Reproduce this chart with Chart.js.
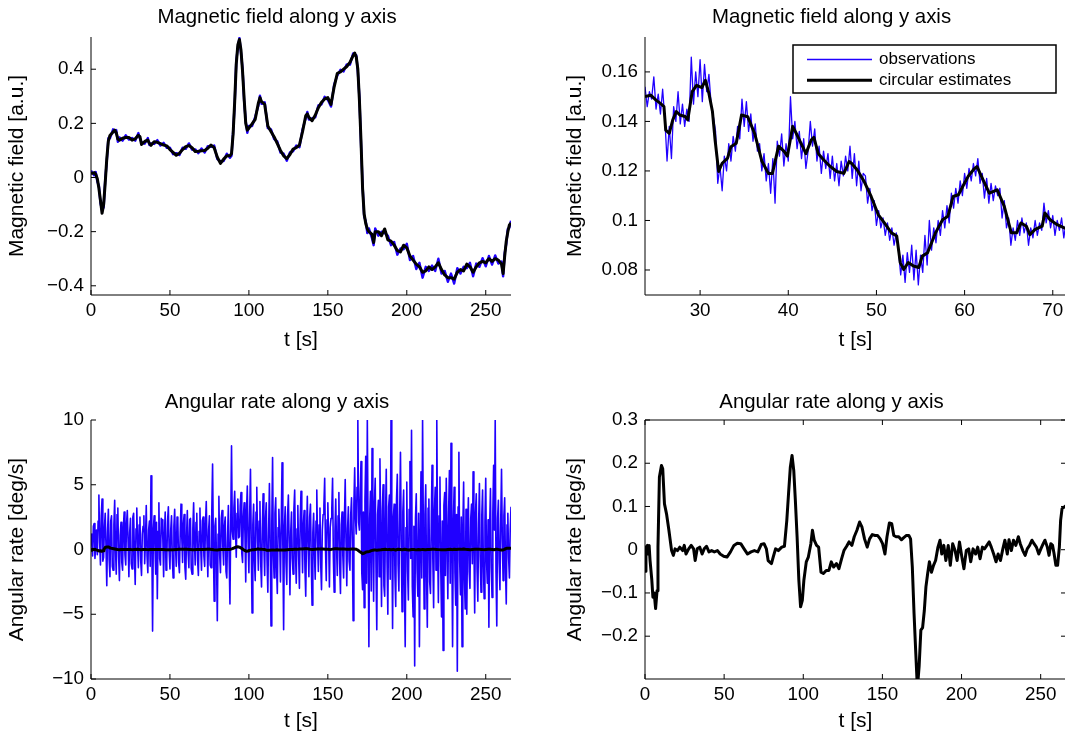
<!DOCTYPE html>
<html>
<head>
<meta charset="utf-8">
<script src="https://cdn.jsdelivr.net/npm/chart.js@4.4.1/dist/chart.umd.min.js"></script>
<style>
  html, body { margin: 0; padding: 0; background: #fff; }
  #fig { position: relative; width: 1065px; height: 734px; overflow: hidden; }
  #fig canvas { position: absolute; }
</style>
</head>
<body>
<div id="fig">
  <canvas id="magFull" width="532" height="362" style="left:0;top:0"></canvas>
  <canvas id="magZoom" width="540" height="362" style="left:532px;top:0"></canvas>
  <canvas id="rateObsChart" width="532" height="367" style="left:0;top:367px"></canvas>
  <canvas id="rateEstChart" width="540" height="367" style="left:532px;top:367px"></canvas>
</div>
<script>
// ---- data ----
// magnetic field, whole run (top left)
const magTime = [
  0, 2, 3, 4, 5, 6, 7, 8, 9, 10,
  11, 12, 14, 15, 16, 17, 18, 20, 22, 24,
  26, 28, 30, 31, 32, 34, 36, 37, 38, 40,
  42, 44, 46, 48, 50, 52, 54, 56, 58, 60,
  62, 64, 66, 68, 70, 72, 74, 76, 78, 80,
  82, 84, 86, 88, 89, 90, 91, 92, 93, 94,
  95, 96, 97, 98, 99, 100, 102, 104, 106, 107,
  108, 110, 112, 114, 116, 118, 120, 122, 124, 126,
  128, 130, 132, 134, 136, 137, 138, 140, 142, 144,
  146, 148, 150, 152, 154, 156, 158, 160, 162, 164,
  166, 167, 168, 169, 170, 171, 172, 173, 174, 175,
  176, 178, 179, 180, 182, 184, 186, 188, 190, 192,
  194, 196, 198, 200, 202, 204, 206, 208, 210, 212,
  214, 216, 218, 220, 222, 224, 226, 228, 230, 232,
  234, 236, 238, 240, 242, 244, 246, 248, 250, 252,
  254, 256, 258, 260, 261, 262, 263, 264, 265, 266
];
const magEst = [
  0.015, 0.018, 0.012, -0.005, -0.04, -0.085, -0.132, -0.1, -0.02, 0.07,
  0.135, 0.155, 0.168, 0.175, 0.165, 0.142, 0.138, 0.145, 0.148, 0.148,
  0.138, 0.143, 0.156, 0.151, 0.122, 0.133, 0.138, 0.126, 0.119, 0.132,
  0.13, 0.125, 0.12, 0.117, 0.103, 0.093, 0.082, 0.09, 0.103, 0.114,
  0.118, 0.11, 0.096, 0.097, 0.099, 0.1, 0.108, 0.12, 0.11, 0.075,
  0.052, 0.068, 0.08, 0.08, 0.088, 0.16, 0.28, 0.42, 0.49, 0.51,
  0.47, 0.39, 0.29, 0.2, 0.175, 0.182, 0.198, 0.215, 0.275, 0.295,
  0.28, 0.27, 0.19, 0.17, 0.15, 0.125, 0.1, 0.08, 0.07, 0.085,
  0.105, 0.11, 0.12, 0.17, 0.228, 0.235, 0.222, 0.21, 0.23, 0.258,
  0.278, 0.29, 0.295, 0.27, 0.335, 0.385, 0.39, 0.4, 0.41, 0.425,
  0.45, 0.46, 0.445, 0.4, 0.285, 0.135, -0.04, -0.135, -0.17, -0.19,
  -0.2, -0.21, -0.24, -0.2, -0.2, -0.215, -0.19, -0.23, -0.235, -0.25,
  -0.27, -0.275, -0.25, -0.26, -0.29, -0.305, -0.32, -0.33, -0.35, -0.345,
  -0.33, -0.34, -0.33, -0.315, -0.34, -0.36, -0.37, -0.37, -0.375, -0.35,
  -0.34, -0.345, -0.32, -0.33, -0.35, -0.33, -0.315, -0.31, -0.315, -0.3,
  -0.31, -0.3, -0.305, -0.32, -0.355, -0.29, -0.235, -0.2, -0.175, -0.168
];
const magObs = [
  0.025, 0.008, 0.02, -0.015, -0.03, -0.095, -0.12, -0.11, -0.01, 0.06,
  0.145, 0.145, 0.178, 0.168, 0.175, 0.132, 0.148, 0.136, 0.156, 0.14,
  0.146, 0.136, 0.164, 0.143, 0.13, 0.125, 0.146, 0.12, 0.126, 0.124,
  0.138, 0.118, 0.128, 0.11, 0.11, 0.086, 0.09, 0.083, 0.11, 0.106,
  0.126, 0.103, 0.104, 0.09, 0.107, 0.092, 0.116, 0.113, 0.118, 0.068,
  0.06, 0.061, 0.088, 0.073, 0.08, 0.168, 0.27, 0.43, 0.48, 0.515,
  0.46, 0.4, 0.28, 0.208, 0.165, 0.19, 0.19, 0.224, 0.265, 0.302,
  0.272, 0.278, 0.182, 0.178, 0.142, 0.133, 0.092, 0.088, 0.062, 0.093,
  0.097, 0.118, 0.112, 0.178, 0.22, 0.242, 0.214, 0.218, 0.222, 0.266,
  0.27, 0.298, 0.287, 0.262, 0.343, 0.377, 0.398, 0.392, 0.418, 0.417,
  0.458, 0.452, 0.452, 0.39, 0.295, 0.125, -0.03, -0.145, -0.16, -0.205,
  -0.188, -0.225, -0.25, -0.188, -0.215, -0.2, -0.205, -0.215, -0.25, -0.238,
  -0.285, -0.262, -0.265, -0.245, -0.305, -0.29, -0.338, -0.315, -0.37, -0.33,
  -0.345, -0.325, -0.345, -0.3, -0.355, -0.345, -0.385, -0.355, -0.392, -0.335,
  -0.355, -0.33, -0.335, -0.315, -0.365, -0.318, -0.33, -0.298, -0.328, -0.29,
  -0.322, -0.288, -0.318, -0.31, -0.365, -0.28, -0.245, -0.19, -0.185, -0.16
];

// magnetic field, close-up 24-72 s (top right)
const zoomEstTime = [
  23.75, 24.4, 25, 25.5, 25.9, 26.1, 26.5, 26.9, 27.3, 27.7,
  28.3, 28.6, 29.1, 29.6, 30.2, 30.6, 31, 31.4, 31.7, 32.1,
  32.5, 33.1, 33.5, 34.1, 34.7, 35.4, 36.2, 37, 37.75, 38.2,
  38.9, 39.5, 39.9, 40.5, 41, 41.6, 42, 42.6, 42.9, 43.4,
  44, 44.7, 45.5, 46.3, 46.9, 47.2, 47.8, 48.6, 49.4, 50.2,
  50.9, 51.7, 52.3, 52.7, 53.1, 53.6, 54.2, 54.8, 55.2, 55.8,
  56.4, 56.7, 57.5, 58.1, 58.7, 59.3, 59.8, 60.4, 61, 61.4,
  62, 62.8, 63.7, 64.5, 65.3, 65.9, 66.4, 67, 67.4, 68,
  68.8, 69.1, 69.7, 70.5, 71.3, 72
];
const zoomEst = [
  0.150, 0.1506, 0.1486, 0.1473, 0.146, 0.1365, 0.1352, 0.1406, 0.144, 0.1426,
  0.142, 0.1406, 0.152, 0.1546, 0.1537, 0.1566, 0.1513, 0.144, 0.1325, 0.1198,
  0.1231, 0.1251, 0.1298, 0.1312, 0.1426, 0.1419, 0.135, 0.124, 0.119, 0.119,
  0.13, 0.128, 0.126, 0.138, 0.1345, 0.13, 0.127, 0.1325, 0.1336, 0.127,
  0.1245, 0.122, 0.1198, 0.119, 0.1238, 0.123, 0.1205, 0.1158, 0.1097, 0.1024,
  0.099, 0.095, 0.0937, 0.083, 0.0802, 0.083, 0.0816, 0.081, 0.0856, 0.087,
  0.0923, 0.095, 0.1003, 0.1017, 0.1097, 0.1104, 0.1138, 0.1178, 0.1205, 0.1218,
  0.1171, 0.111, 0.1124, 0.1057, 0.095, 0.095, 0.099, 0.0977, 0.0943, 0.0964,
  0.0977, 0.103, 0.1003, 0.0983, 0.097, 0.096
];
const zoomObsStart = 23.75;
const zoomObsStep = 0.25;
const zoomObs = [
  0.154, 0.146, 0.152, 0.149,  0.158, 0.145, 0.151, 0.143,
  0.153, 0.141, 0.124, 0.138,  0.125, 0.146, 0.14, 0.152,
  0.139, 0.147, 0.138, 0.145,  0.14, 0.166, 0.147, 0.16,
  0.15, 0.165, 0.148, 0.163,   0.152, 0.159, 0.147, 0.142,
  0.136, 0.115, 0.122, 0.112,  0.126, 0.12, 0.131, 0.124,
  0.134, 0.128, 0.138, 0.133,  0.149, 0.138, 0.148, 0.136,
  0.143, 0.132, 0.139, 0.128,  0.131, 0.12, 0.127, 0.116,
  0.123, 0.111, 0.125, 0.107,  0.132, 0.126, 0.135, 0.122,
  0.131, 0.124, 0.15, 0.133,   0.14, 0.129, 0.136, 0.125,
  0.133, 0.121, 0.128, 0.14,   0.13, 0.137, 0.124, 0.13,
  0.119, 0.128, 0.121, 0.127,  0.117, 0.126, 0.116, 0.123,
  0.114, 0.124, 0.118, 0.126,  0.12, 0.13, 0.117, 0.127,
  0.114, 0.124, 0.112, 0.119,  0.118, 0.107, 0.113, 0.104,
  0.108, 0.098, 0.104, 0.097,  0.101, 0.094, 0.099, 0.092,
  0.097, 0.09, 0.095, 0.088,   0.078, 0.086, 0.075, 0.087,
  0.079, 0.09, 0.076, 0.088,   0.074, 0.086, 0.079, 0.094,
  0.082, 0.1, 0.088, 0.097,    0.091, 0.1, 0.094, 0.104,
  0.097, 0.106, 0.099, 0.111,  0.105, 0.113, 0.107, 0.116,
  0.11, 0.119, 0.113, 0.121,   0.116, 0.123, 0.118, 0.125,
  0.115, 0.119, 0.109, 0.117,  0.107, 0.115, 0.108, 0.114,
  0.11, 0.113, 0.101, 0.108,   0.097, 0.101, 0.09, 0.097,
  0.092, 0.1, 0.094, 0.101,    0.095, 0.099, 0.09, 0.097,
  0.093, 0.1, 0.094, 0.099,    0.096, 0.107, 0.099, 0.104,
  0.097, 0.102, 0.094, 0.1,    0.096, 0.101, 0.093, 0.099,
  0.095, 0.098
];

// angular rate estimate (bottom right, also the black line bottom left)
const rateTime = [
  0, 0.6, 1.5, 2.2, 2.6, 3.2, 4.3, 5, 5.8, 6.7,
  7.6, 8.2, 9.1, 10.4, 11.2, 12.3, 13.6, 15.1, 16.8, 17.9,
  19, 20.5, 22, 23.8, 24.8, 25.9, 27.6, 29.2, 30.7, 31.7,
  33, 34.6, 36.1, 37.4, 38.9, 40.4, 42.1, 43.8, 45.8, 47.5,
  49.7, 51.8, 54, 56.2, 58.3, 60.5, 62.6, 64.8, 67, 69.1,
  71.3, 73.4, 75.2, 76.7, 77.8, 79.9, 81, 82.5, 84.2, 86.4,
  88.1, 89.6, 90.7, 91.8, 92.9, 94, 95, 96.1, 97.2, 98.3,
  99.4, 100.4, 101.9, 103.2, 104.8, 105.8, 106.9, 108.4, 109.7, 111.2,
  112.7, 114.5, 116.2, 117.7, 119.2, 121, 122.5, 124.2, 125.7, 127.4,
  128.9, 130.7, 132.2, 133.9, 135.6, 137.1, 138.7, 140.4, 141.9, 143.6,
  145.4, 146.9, 148.6, 150.1, 151.6, 152.9, 154.4, 155.9, 157.2, 158.7,
  160.3, 162, 163.5, 165.2, 166.7, 167.8, 168.9, 170, 171.1, 172.1,
  173.2, 174.3, 175.4, 176.5, 177.5, 178.6, 179.7, 181, 182.3, 183.6,
  185.1, 186.4, 187.5, 188.8, 190.1, 191.6, 192.9, 194.4, 195.9, 197.2,
  198.7, 200.2, 201.5, 203, 204.5, 205.8, 207.3, 208.9, 210.2, 211.7,
  213.2, 214.5, 216, 217.5, 218.8, 220.3, 221.8, 223.1, 224.6, 226.1,
  227.4, 228.9, 230, 231.5, 232.8, 234.3, 235.9, 237.1, 238.7, 240.2,
  241.5, 243, 244.5, 245.8, 247.3, 248.8, 250.1, 251.6, 252.7, 254.2,
  255.3, 256.4, 257.5, 258.5, 259.6, 260.7, 261.8, 262.6, 263.5, 264.6,
  266
];
const rateEst = [
  -0.05, 0.006, 0.01, -0.01, 0.01, -0.025, -0.07, -0.11, -0.1, -0.136,
  -0.095, 0.006, 0.168, 0.195, 0.187, 0.106, 0.083, 0.045, -0.002, -0.013,
  0.002, -0.002, 0.006, -0.002, 0.01, -0.01, 0.002, 0.01, 0.002, -0.025,
  0.002, 0.006, -0.01, 0.002, 0.008, -0.005, -0.002, -0.005, -0.002, -0.01,
  -0.015, -0.017, -0.005, 0.01, 0.015, 0.014, 0.002, -0.01, -0.005, -0.002,
  -0.005, 0.012, 0.014, 0.002, -0.025, -0.032, -0.017, 0.002, -0.002, 0.006,
  0.008, 0.068, 0.13, 0.19, 0.218, 0.183, 0.114, 0.03, -0.07, -0.132,
  -0.117, -0.07, -0.028, -0.017, 0.014, 0.045, 0.022, 0.01, 0.006, -0.052,
  -0.055, -0.048, -0.048, -0.028, -0.04, -0.032, -0.044, -0.021, -0.002, 0.008,
  0.018, 0.01, 0.03, 0.045, 0.064, 0.052, 0.025, 0.006, 0.025, 0.035,
  0.033, 0.033, 0.025, 0.014, -0.01, 0.03, 0.062, 0.06, 0.033, 0.03,
  0.03, 0.023, 0.028, 0.033, 0.033, 0.025, -0.04, -0.148, -0.24, -0.32,
  -0.27, -0.186, -0.18, -0.14, -0.086, -0.055, -0.028, -0.052, -0.036, -0.025,
  0.006, 0.022, -0.01, 0.01, -0.025, 0.01, -0.036, 0.014, -0.002, -0.025,
  0.018, -0.017, -0.044, -0.002, 0.002, -0.028, 0.002, -0.01, 0.006, -0.021,
  0.006, 0.002, 0.01, 0.018, 0.006, -0.01, -0.028, -0.01, -0.025, 0.002,
  0.022, -0.01, 0.023, -0.002, 0.022, 0.01, 0.03, 0.014, -0.002, -0.013,
  0.002, 0.01, 0.022, 0.014, 0.006, -0.01, 0.002, 0.014, 0.022, 0.006,
  -0.013, 0.014, 0.01, -0.01, -0.036, -0.036, 0.006, 0.068, 0.095, 0.098,
  0.102
];

// angular rate observations, two samples per second (bottom left)
const rateObsStep = 0.5;
const rateObs = [
  1.2, 0.4, -0.5, 1.8, 2.0, -0.7, 0.3, 1.5, -0.4, 2.2, 4.2, 0.5, -1.2, 2.6, 3.9, -0.9, -0.6, 1.7, 2.8, 0.2,
  -2.8, 1.4, 3.1, -0.8, -2.1, 2.2, 2.6, -1.3, -1.6, 1.9, 3.8, 0.1, -1.9, 2.7, 3.2, -0.6, -2.4, 1.1, 2.1, -1.0,
  -1.6, 1.7, 2.9, -0.4, -1.2, 2.0, 3.0, 0.6, -2.1, 1.3, 2.4, -1.1, -1.5, 2.5, 2.8, -0.3, -2.7, 1.6, 3.2, 0.4,
  -1.4, 1.9, 2.5, -0.9, -2.0, 1.2, 1.8, 2.6, -1.1, 0.7, 3.4, -0.5, -1.8, 1.5, 2.2, -1.3, 5.7, 0.9, -6.3, 1.6,
  2.6, 0.2, -1.9, 2.1, -3.8, 1.4, 3.6, -0.7, -1.2, 2.4, 2.3, 0.8, -2.1, 1.2, 2.9, -1.6, -0.9, 2.2, 3.3, -0.2,
  -1.5, 1.5, 2.6, -0.6, -2.2, 1.8, 3.1, 0.3, -1.3, 2.5, 2.2, -1.0, -1.8, 1.3, 3.5, 0.9, -1.0, 2.0, 2.7, -1.4,
  -2.3, 1.0, 3.0, -0.2, -1.4, 2.3, 2.4, -1.5, -1.9, 1.6, 3.6, 0.5, -1.2, 2.1, 2.8, -0.8, -2.0, 1.4, 3.2, 0.1,
  -1.6, 2.2, 2.5, -0.5, -1.3, 1.9, 3.7, 0.4, -2.1, 1.5, 2.6, -1.2, -1.4, 2.9, 6.6, 0.3, -4.0, 1.8, 2.4, -0.9,
  -5.5, 1.2, 4.1, -0.4, -1.8, 2.4, 3.0, 0.2, -1.2, 1.8, 2.5, -1.7, -2.2, 1.1, 3.4, -0.6, -4.2, 2.0, 8.0, 1.4,
  0.8, 3.2, 4.5, 1.6, -0.6, 2.8, 3.9, 0.9, 1.0, 3.4, 4.4, -0.3, -1.0, 2.5, 3.6, 1.2, -2.5, 3.0, 4.9, 0.6,
  -1.8, 2.7, 6.2, 0.4, -4.9, 1.9, 3.5, -0.8, -2.4, 2.9, 4.8, 0.7, -1.6, 2.2, 3.7, -1.1, -2.9, 1.6, 4.3, 0.2,
  -2.0, 2.4, 3.6, -0.9, -3.3, 1.5, 5.1, 0.6, -5.9, 2.0, 7.1, -0.4, -2.2, 2.8, 4.0, -1.3, -3.4, 1.7, 3.1, 0.8,
  -2.5, 2.1, 6.7, 0.3, -6.2, 1.8, 3.3, -1.0, -2.7, 2.6, 4.2, 0.5, -3.5, 1.4, 2.9, -0.7, -1.9, 3.1, 4.6, -0.2,
  -2.6, 1.6, 3.4, -0.5, -3.0, 2.3, 4.5, 0.9, -1.8, 2.0, 3.0, -1.4, -3.6, 1.1, 4.1, 0.4, -2.1, 2.5, 3.5, -0.8,
  -4.3, 1.3, 2.8, -0.3, -2.3, 2.2, 4.6, 0.7, -1.7, 1.9, 3.2, -1.2, -3.1, 1.5, 2.7, 3.4, 5.5, 0.1, -2.4, 2.3,
  3.6, 0.8, -2.9, 1.7, 2.4, 3.1, 5.5, -0.6, -3.3, 1.4, 3.9, 0.2, -2.0, 2.6, 4.4, -1.1, -3.4, 1.9, 2.9, -0.5,
  -2.2, 2.3, 5.4, 0.6, -2.8, 1.6, 3.3, -0.9, -1.6, 2.7, 4.0, 0.8, -5.5, 3.5, 6.3, 2.4, 1.2, 4.8, 10.0, 2.1,
  1.5, 4.4, 6.8, -1.8, -3.1, 2.9, -4.5, 3.8, 7.2, -2.6, 10.0, 1.3, -7.5, 2.4, 4.5, -3.2, 7.8, 0.9, -4.0, 3.6,
  5.5, -1.4, -6.2, 2.7, 3.8, -2.1, 7.0, 1.1, -4.4, 3.0, 5.0, -2.8, -3.6, 2.2, 6.2, -1.0, -5.0, 3.3, 4.2, -2.3,
  10.0, 1.8, -6.1, 2.5, 3.5, -2.0, -4.4, 3.9, 5.8, -1.2, -3.2, 2.6, 7.5, 0.4, -4.8, 2.9, 4.6, -2.4, -7.5, 1.7,
  5.2, -1.6, -3.9, 3.1, 6.8, -0.7, 9.2, -2.9, -5.2, 1.8, -9.0, 2.4, 4.3, -1.5, -3.6, 2.8, -7.5, 0.6, 6.0, -2.2,
  10.0, 1.4, -4.6, 2.7, 5.0, -1.9, -6.0, 3.2, 3.9, -2.5, -3.4, 2.1, 6.5, -0.8, -4.5, 3.0, 4.8, -1.6, 10.0, 0.9,
  -4.1, 2.6, 5.6, -1.3, -5.2, 2.2, -7.8, 3.4, 4.4, -2.0, 5.5, 1.0, -3.8, 2.9, 6.1, -2.6, 8.2, 0.5, -7.5, 2.3,
  4.8, -1.8, -4.3, 2.7, -9.4, 3.3, 7.5, -0.9, -3.5, 2.5, -7.5, 1.6, 5.2, -2.2, -4.6, 3.1, -5.0, 1.2, 4.0, -1.7,
  -3.0, 2.4, 3.5, -1.1, 6.0, 0.7, -4.9, 2.8, 4.3, -1.5, -4.0, 2.0, 5.1, -0.6, -3.3, 2.6, 4.6, -1.2, -3.8, 2.1,
  5.5, -0.9, -2.6, 2.3, -6.0, 1.9, 4.7, -1.4, -3.7, 2.8, 6.5, 1.5, 10.0, -1.7, -5.9, 2.4, 3.8, -1.0, -3.1, 2.2,
  6.2, 0.8, -2.4, 2.6, 4.0, -1.3, -4.2, 1.9, 2.8, -0.7, -2.2, 1.5, 3.3
];

// axis ticks
const tTicksFull = [0, 50, 100, 150, 200, 250];
const tTicksZoom = [30, 40, 50, 60, 70];
const magTicksFull = [-0.4, -0.2, 0, 0.2, 0.4];
const magTicksZoom = [0.08, 0.1, 0.12, 0.14, 0.16];
const rateTicksObs = [-10, -5, 0, 5, 10];
const rateTicksEst = [-0.2, -0.1, 0, 0.1, 0.2, 0.3];

// ---- drawing ----
const BLUE = '#2000ff';
const FONT = '"Liberation Sans", Arial, Helvetica, sans-serif';
const TICK_SIZE = 18.8;
const LABEL_SIZE = 21;
const LABEL_LH = LABEL_SIZE * 1.2;
const TITLE_SIZE = 20.4;

Chart.defaults.font.family = FONT;
Chart.defaults.color = '#000';

const pairs = (xs, ys) => ys.map((y, i) => ({ x: xs[i], y }));
const stepped = (start, step, ys) => ys.map((y, i) => ({ x: start + i * step, y }));
const fmt = v => (v < 0 ? '\u2212' + Math.abs(v) : String(v));

// panel title, placed over the axes like the original figure
const panelTitle = {
  id: 'panelTitle',
  afterDraw(chart, args, opts) {
    const { ctx, chartArea: a } = chart;
    ctx.save();
    ctx.font = TITLE_SIZE + 'px ' + FONT;
    ctx.fillStyle = '#000';
    ctx.textAlign = 'center';
    ctx.textBaseline = 'middle';
    ctx.fillText(opts.text, (a.left + a.right) / 2 + opts.dx, opts.y);
    ctx.restore();
  }
};

// MATLAB style axes: lines plus inward tick marks
const matlabAxes = {
  id: 'matlabAxes',
  afterDatasetsDraw(chart, args, opts) {
    const { ctx, chartArea: a, scales: { x, y } } = chart;
    const len = 5;
    ctx.save();
    ctx.strokeStyle = '#000';
    ctx.lineWidth = 1;
    ctx.beginPath();
    x.ticks.forEach(t => {
      const px = x.getPixelForValue(t.value);
      ctx.moveTo(px, a.bottom); ctx.lineTo(px, a.bottom - len);
      if (opts.box) { ctx.moveTo(px, a.top); ctx.lineTo(px, a.top + len); }
    });
    y.ticks.forEach(t => {
      const py = y.getPixelForValue(t.value);
      ctx.moveTo(a.left, py); ctx.lineTo(a.left + len, py);
      if (opts.box) { ctx.moveTo(a.right, py); ctx.lineTo(a.right - len, py); }
    });
    ctx.moveTo(a.left, a.top); ctx.lineTo(a.left, a.bottom); ctx.lineTo(a.right, a.bottom);
    if (opts.box) { ctx.moveTo(a.left, a.top); ctx.lineTo(a.right, a.top); ctx.lineTo(a.right, a.bottom); }
    ctx.stroke();
    ctx.restore();
  }
};

// boxed legend in the upper right corner of the plot
const boxLegend = {
  id: 'boxLegend',
  afterDraw(chart, args, opts) {
    if (!opts.show) return;
    const { ctx, chartArea: a } = chart;
    const w = 263, h = 48;
    const bx = a.right - 10 - w, by = a.top + 8;
    ctx.save();
    ctx.fillStyle = '#fff';
    ctx.fillRect(bx, by, w, h);
    ctx.strokeStyle = '#000';
    ctx.lineWidth = 1.5;
    ctx.strokeRect(bx, by, w, h);
    ctx.font = '17px ' + FONT;
    ctx.textBaseline = 'middle';
    ctx.textAlign = 'left';
    chart.data.datasets.forEach((ds, i) => {
      const ly = by + 14.5 + i * 20.7;
      ctx.strokeStyle = ds.borderColor;
      ctx.lineWidth = ds.borderWidth;
      ctx.beginPath();
      ctx.moveTo(bx + 14, ly);
      ctx.lineTo(bx + 79, ly);
      ctx.stroke();
      ctx.fillStyle = '#000';
      ctx.fillText(ds.label, bx + 86, ly);
    });
    ctx.restore();
  }
};

function obsSet(data, width) {
  return { label: 'observations', data, borderColor: BLUE, borderWidth: width, pointRadius: 0,
           tension: 0, fill: false, order: 1, clip: 0, borderJoinStyle: 'round' };
}
function estSet(data) {
  return { label: 'circular estimates', data, borderColor: '#000', borderWidth: 3, pointRadius: 0,
           tension: 0, fill: false, order: 0, clip: 0, borderJoinStyle: 'round' };
}

function panel(id, p) {
  const canvas = document.getElementById(id);
  const W = canvas.width, H = canvas.height;
  return new Chart(canvas, {
    type: 'line',
    data: { datasets: p.datasets },
    options: {
      responsive: false,
      animation: false,
      devicePixelRatio: 1,
      events: [],
      layout: { padding: { left: 0, top: p.area.top, bottom: 0, right: W - p.area.right } },
      plugins: {
        legend: { display: false },
        tooltip: { enabled: false },
        title: { display: false },
        panelTitle: { text: p.title, y: p.titleY, dx: -24 },
        matlabAxes: { box: !!p.box },
        boxLegend: { show: !!p.legend }
      },
      scales: {
        x: {
          type: 'linear', min: p.xRange[0], max: p.xRange[1],
          grid: { display: false, drawTicks: false }, border: { display: false },
          ticks: { padding: 5, autoSkip: false, maxRotation: 0, font: { size: TICK_SIZE }, color: '#000', callback: fmt },
          afterBuildTicks: s => { s.ticks = p.xTicks.map(v => ({ value: v })); },
          afterFit: s => { s.height = H - p.area.bottom; },
          title: { display: true, text: 't [s]', color: '#000', font: { size: LABEL_SIZE },
                   padding: { top: 0, bottom: (H - p.xLabelY) - LABEL_LH / 2 } }
        },
        y: {
          type: 'linear', min: p.yRange[0], max: p.yRange[1],
          grid: { display: false, drawTicks: false }, border: { display: false },
          ticks: { padding: 7, autoSkip: false, font: { size: TICK_SIZE }, color: '#000', callback: fmt },
          afterBuildTicks: s => { s.ticks = p.yTicks.map(v => ({ value: v })); },
          afterFit: s => { s.width = p.area.left; },
          title: { display: true, text: p.yLabel, color: '#000', font: { size: LABEL_SIZE },
                   padding: { top: p.yLabelX - LABEL_LH / 2, bottom: 0 } }
        }
      }
    },
    plugins: [matlabAxes, boxLegend, panelTitle]
  });
}

panel('magFull', {
  title: 'Magnetic field along y axis', yLabel: 'Magnetic field [a.u.]',
  area: { left: 91, right: 511, top: 37, bottom: 295 }, titleY: 17, xLabelY: 340, yLabelX: 17,
  xRange: [0, 266], yRange: [-0.434, 0.519], xTicks: tTicksFull, yTicks: magTicksFull,
  datasets: [obsSet(pairs(magTime, magObs), 2.4), estSet(pairs(magTime, magEst))]
});

panel('magZoom', {
  title: 'Magnetic field along y axis', yLabel: 'Magnetic field [a.u.]',
  area: { left: 113, right: 534, top: 37, bottom: 295 }, titleY: 17, xLabelY: 340, yLabelX: 43,
  xRange: [23.75, 71.5], yRange: [0.0699, 0.1741], xTicks: tTicksZoom, yTicks: magTicksZoom,
  legend: true,
  datasets: [obsSet(stepped(zoomObsStart, zoomObsStep, zoomObs), 1.3), estSet(pairs(zoomEstTime, zoomEst))]
});

panel('rateObsChart', {
  title: 'Angular rate along y axis', yLabel: 'Angular rate [deg/s]',
  area: { left: 91, right: 511, top: 53, bottom: 312 }, titleY: 35, xLabelY: 354, yLabelX: 17,
  xRange: [0, 266], yRange: [-10, 10], xTicks: tTicksFull, yTicks: rateTicksObs,
  datasets: [obsSet(stepped(0, rateObsStep, rateObs), 1.6), estSet(pairs(rateTime, rateEst))]
});

panel('rateEstChart', {
  title: 'Angular rate along y axis', yLabel: 'Angular rate [deg/s]',
  area: { left: 113, right: 534, top: 53, bottom: 312 }, titleY: 35, xLabelY: 354, yLabelX: 43,
  xRange: [0, 266], yRange: [-0.299, 0.3], xTicks: tTicksFull, yTicks: rateTicksEst,
  box: true,
  datasets: [estSet(pairs(rateTime, rateEst))]
});
</script>
</body>
</html>
